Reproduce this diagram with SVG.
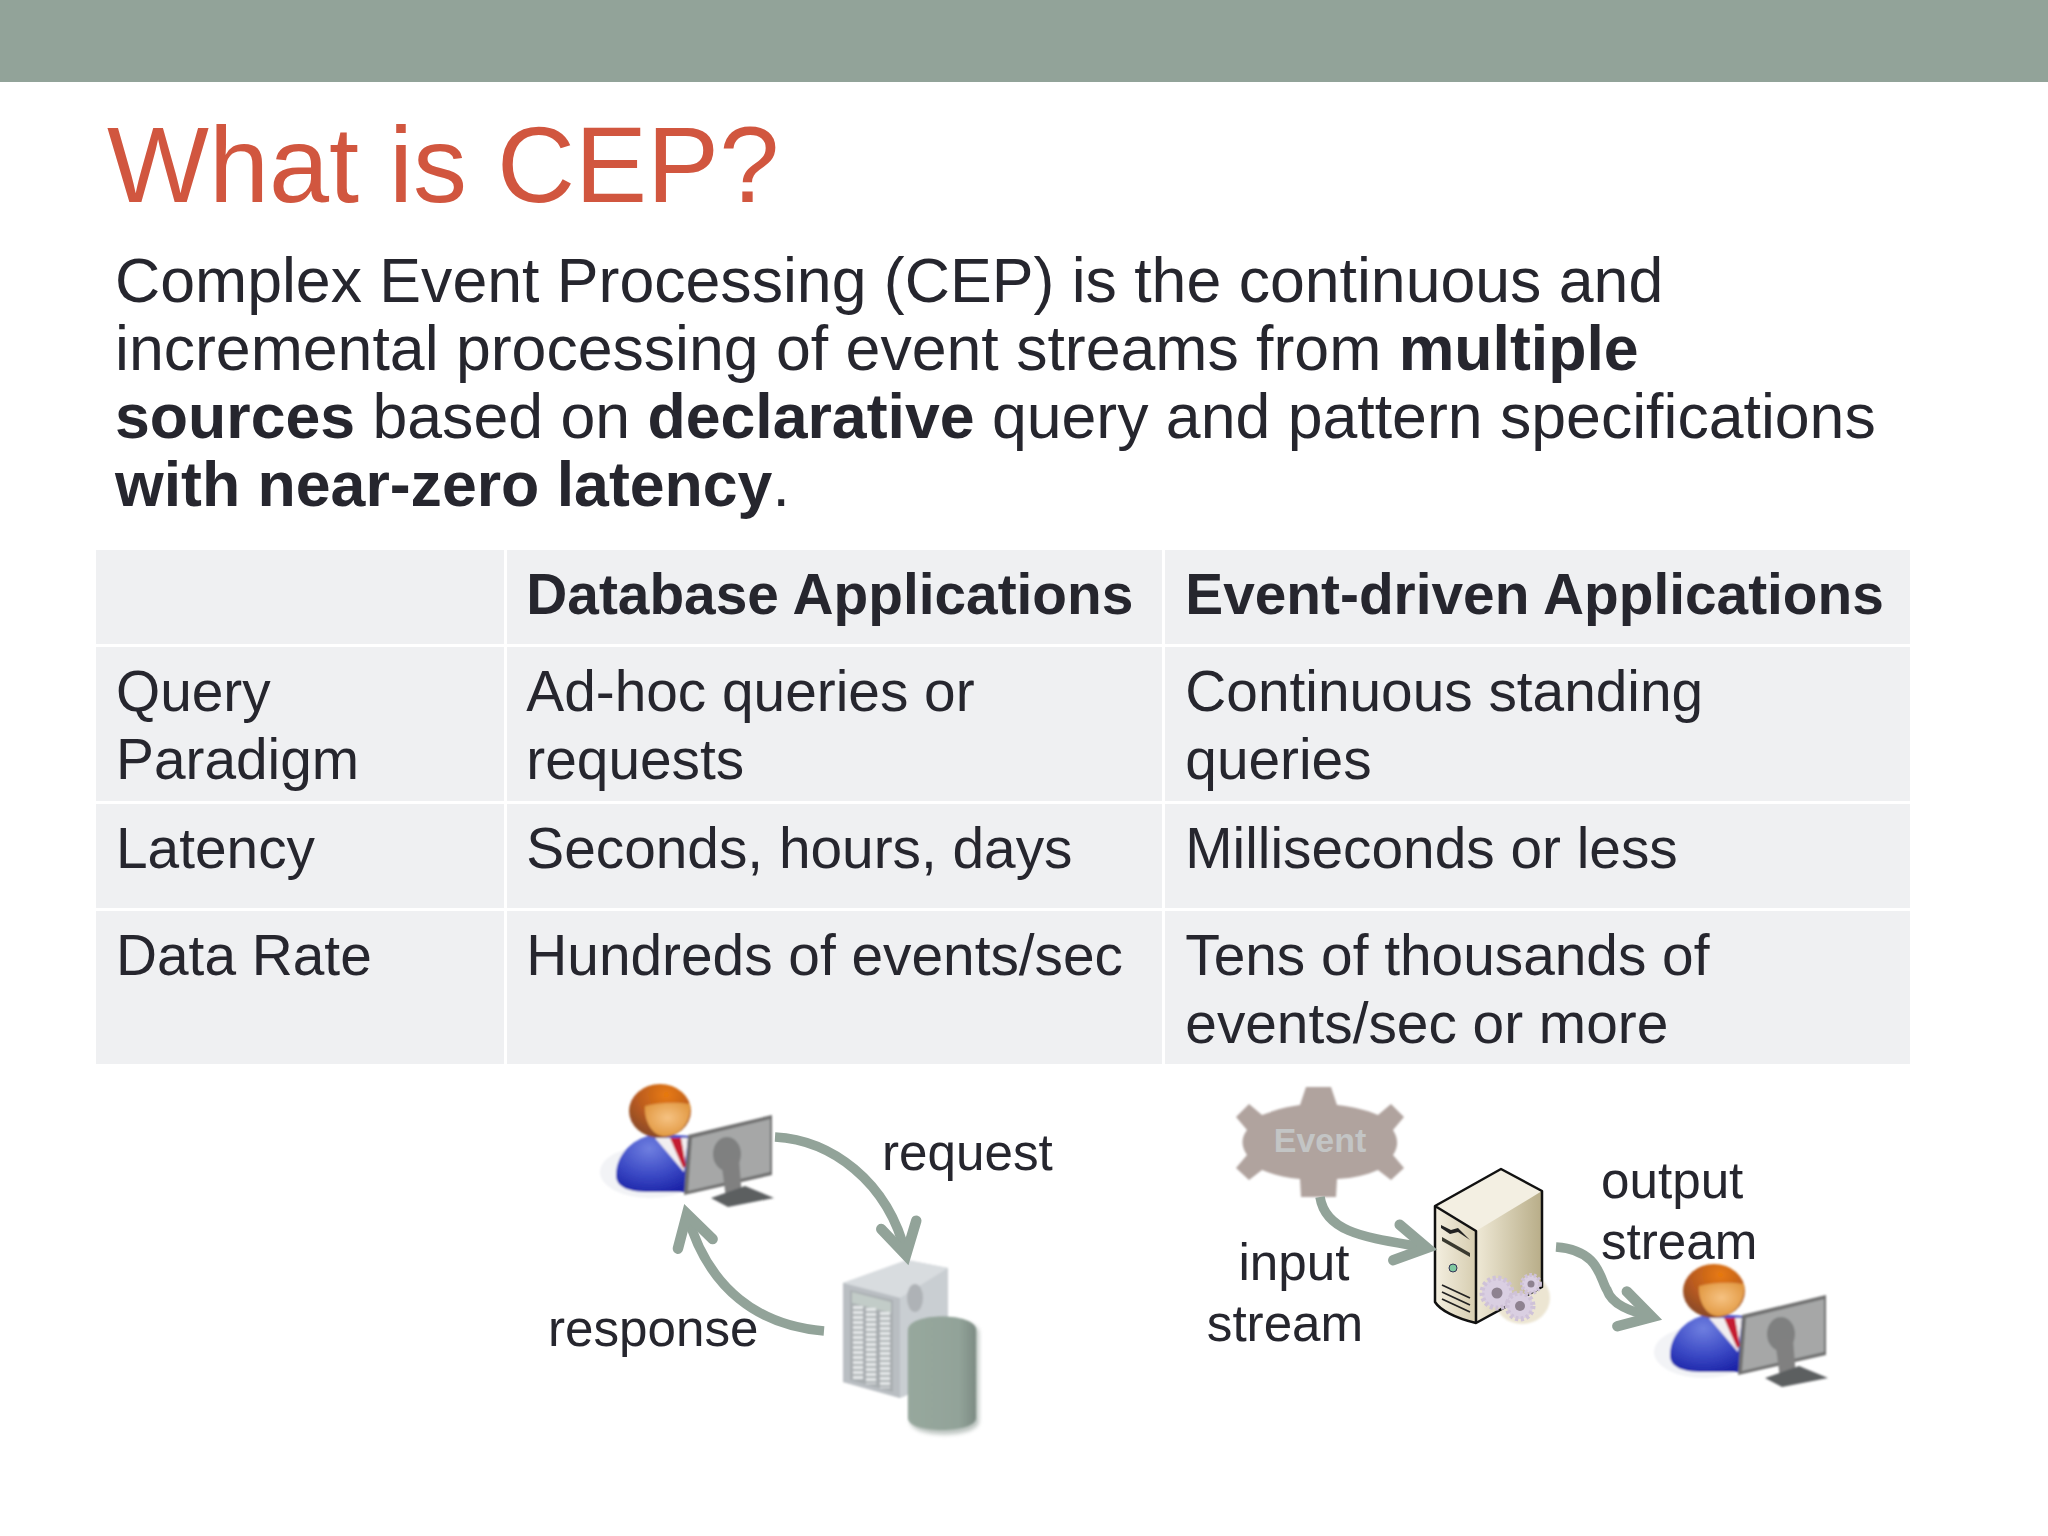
<svg xmlns="http://www.w3.org/2000/svg" width="2048" height="1536" viewBox="0 0 2048 1536">
<style>
text{font-family:"Liberation Sans",Arial,sans-serif;fill:#26262e}
.title{font-size:108px;fill:#d1563f}
.body{font-size:62.6px}
.b{font-weight:700}
.cell{font-size:56.8px}
.lab{font-size:51.2px}
.tc{fill:#eff0f2}
.conn{fill:none;stroke:#92a399;stroke-width:9.5;marker-end:url(#chev)}
</style>
<defs>
<marker id="chev" markerUnits="userSpaceOnUse" markerWidth="60" markerHeight="60" refX="42" refY="30" orient="auto">
<path d="M11 12 L42 30 L11 48" fill="none" stroke="#92a399" stroke-width="10.5" stroke-linecap="round" stroke-linejoin="miter"/>
</marker>
<filter id="soft" x="-10%" y="-10%" width="120%" height="120%"><feGaussianBlur stdDeviation="0.8"/></filter>
<filter id="soft2" x="-20%" y="-20%" width="140%" height="140%"><feGaussianBlur stdDeviation="2"/></filter>
<radialGradient id="hair" cx="0.6" cy="0.2" r="0.8"><stop offset="0" stop-color="#e87a10"/><stop offset="0.6" stop-color="#b85a20"/><stop offset="1" stop-color="#8a4a28"/></radialGradient>
<radialGradient id="face" cx="0.5" cy="0.45" r="0.6"><stop offset="0" stop-color="#f6c282"/><stop offset="1" stop-color="#e0963e"/></radialGradient>
<radialGradient id="suit" cx="0.45" cy="0.25" r="0.8"><stop offset="0" stop-color="#6f7fe0"/><stop offset="0.6" stop-color="#3a48c4"/><stop offset="1" stop-color="#1c24a8"/></radialGradient>
<linearGradient id="srvR" x1="0" y1="0" x2="1" y2="0"><stop offset="0" stop-color="#efe9d6"/><stop offset="1" stop-color="#b8ad88"/></linearGradient>
<linearGradient id="srvF" x1="0" y1="0" x2="1" y2="0"><stop offset="0" stop-color="#f4efe0"/><stop offset="1" stop-color="#d6cdb0"/></linearGradient>
<linearGradient id="cyl" x1="0" y1="0" x2="1" y2="0"><stop offset="0" stop-color="#97a89d"/><stop offset="0.75" stop-color="#92a399"/><stop offset="1" stop-color="#7d8c84"/></linearGradient>
<g id="person" filter="url(#soft)">
<ellipse cx="650" cy="1172" rx="50" ry="26" fill="#f2f3f6"/>
<path d="M616 1175 C616 1150 640 1134 660 1134 L690 1136 L688 1192 L650 1192 C630 1192 616 1188 616 1175Z" fill="url(#suit)"/>
<path d="M655 1138 L688 1138 L684 1172 Z" fill="#f2eef0"/>
<path d="M670 1138 L681 1138 L686 1166 L683 1168 Z" fill="#c41e30"/>
<ellipse cx="660" cy="1111" rx="31" ry="27" fill="url(#hair)"/>
<path d="M645 1106 C660 1102 676 1102 690 1104 C692 1125 676 1138 662 1136 C651 1134 644 1120 645 1106Z" fill="url(#face)"/>
<path d="M688 1135 L772 1115 L772 1175 L684 1195 Z" fill="#6f7070"/>
<path d="M692 1138 L770 1119 L770 1172 L688 1191 Z" fill="#a6a7a7"/>
<ellipse cx="727" cy="1154" rx="14" ry="17" fill="#7f8080"/>
<path d="M721 1160 L739 1158 L742 1198 L726 1198 Z" fill="#808080"/>
<path d="M711 1198 L745 1186 L774 1198 L728 1207 Z" fill="#5c5f61"/>
</g>
</defs>
<rect id="band" x="0" y="0" width="2048" height="82" fill="#92a399"/>
<g id="heading"><text class="title" x="107" y="202">What is CEP?</text></g>
<g id="definition">
<text class="body" x="115" y="302">Complex Event Processing (CEP) is the continuous and</text>
<text class="body" x="115" y="370">incremental processing of event streams from <tspan class="b">multiple</tspan></text>
<text class="body" x="115" y="438"><tspan class="b">sources</tspan> based on <tspan class="b">declarative</tspan> query and pattern specifications</text>
<text class="body" x="115" y="506"><tspan class="b">with near-zero latency</tspan>.</text>
</g>
<g id="table">
<rect class="tc" x="96" y="550" width="408" height="94"/>
<rect class="tc" x="507" y="550" width="655" height="94"/>
<rect class="tc" x="1165" y="550" width="745" height="94"/>
<rect class="tc" x="96" y="647" width="408" height="154"/>
<rect class="tc" x="507" y="647" width="655" height="154"/>
<rect class="tc" x="1165" y="647" width="745" height="154"/>
<rect class="tc" x="96" y="804" width="408" height="104"/>
<rect class="tc" x="507" y="804" width="655" height="104"/>
<rect class="tc" x="1165" y="804" width="745" height="104"/>
<rect class="tc" x="96" y="911" width="408" height="153"/>
<rect class="tc" x="507" y="911" width="655" height="153"/>
<rect class="tc" x="1165" y="911" width="745" height="153"/>
<text class="cell b" x="526.3" y="614">Database Applications</text>
<text class="cell b" x="1185.3" y="614">Event-driven Applications</text>
<text class="cell" x="116" y="711">Query</text>
<text class="cell" x="116" y="779">Paradigm</text>
<text class="cell" x="526.3" y="711">Ad-hoc queries or</text>
<text class="cell" x="526.3" y="779">requests</text>
<text class="cell" x="1185.3" y="711">Continuous standing</text>
<text class="cell" x="1185.3" y="779">queries</text>
<text class="cell" x="116" y="868">Latency</text>
<text class="cell" x="526.3" y="868">Seconds, hours, days</text>
<text class="cell" x="1185.3" y="868">Milliseconds or less</text>
<text class="cell" x="116" y="975">Data Rate</text>
<text class="cell" x="526.3" y="975">Hundreds of events/sec</text>
<text class="cell" x="1185.3" y="975">Tens of thousands of</text>
<text class="cell" x="1185.3" y="1043">events/sec or more</text>
</g>
<g id="client-db"><use href="#person"/></g>
<g id="database-server" filter="url(#soft)">
<path d="M843 1283 L907 1260 L948 1268 L948 1380 L900 1398 L843 1382 Z" fill="#c9ced2"/>
<path d="M843 1283 L907 1260 L948 1268 L900 1298 Z" fill="#d8dcdf"/>
<ellipse cx="915" cy="1298" rx="8" ry="14" fill="#aeb2b6"/>
<path d="M843 1283 L900 1298 L900 1398 L843 1382 Z" fill="#b9bec2"/>
<path d="M850 1290 L893 1300 L893 1392 L850 1380 Z" fill="#a9aeb1"/>
<path d="M852 1292 L891 1302 L891 1313 L852 1303 Z" fill="#c2ccc8"/>
<path d="M858 1306 V1380 M871 1308 V1384 M885 1312 V1388" stroke="#e6e9ea" stroke-width="10" stroke-dasharray="3 2" fill="none"/>
</g>
<g id="database-cylinder">
<path d="M908 1330 C908 1312 977 1312 977 1330 V1418 C977 1436 908 1436 908 1418 Z" fill="#7d8c84" opacity="0.5" filter="url(#soft2)" transform="translate(2 3)"/>
<path d="M908 1330 C908 1312 976 1312 976 1330 V1418 C976 1434 908 1434 908 1418 Z" fill="url(#cyl)" filter="url(#soft)"/>
</g>
<g id="event-gear">
<path d="M1306 1087 H1331 L1337 1105 C1355 1107 1366 1110 1378 1115 L1391 1104 L1404 1117 L1393 1130 C1398 1138 1399 1146 1393 1155 L1404 1168 L1391 1180 L1378 1170 C1366 1175 1355 1178 1337 1179 L1336 1197 H1301 L1300 1179 C1285 1178 1275 1175 1262 1170 L1249 1180 L1236 1168 L1247 1155 C1241 1146 1241 1138 1247 1130 L1236 1117 L1249 1104 L1262 1115 C1275 1110 1285 1107 1300 1105 Z" fill="#b0a39e" filter="url(#soft)"/>
<text x="1320" y="1152" text-anchor="middle" font-size="34" font-weight="700" style="fill:#c3c5c5">Event</text>
</g>
<g id="event-server">
<ellipse cx="1522" cy="1298" rx="28" ry="26" fill="#ece5d2" filter="url(#soft)"/>
<path d="M1501 1169 L1542 1191 V1287 L1476 1323 V1231 Z" fill="url(#srvR)"/>
<path d="M1435 1206 L1501 1169 L1542 1191 L1476 1231 Z" fill="#f3efe2"/>
<path d="M1435 1206 L1476 1231 V1323 C1455 1318 1440 1310 1435 1302 Z" fill="url(#srvF)"/>
<path d="M1435 1206 L1501 1169 L1542 1191 V1287 L1476 1323 C1455 1318 1440 1310 1435 1302 Z M1435 1206 L1476 1231 V1323" fill="none" stroke="#111" stroke-width="2.5" stroke-linejoin="round"/>
<path d="M1441 1225 L1451 1230 L1458 1228 L1470 1240 L1458 1232 L1450 1234 L1441 1228 Z" fill="#222"/>
<path d="M1442 1237 L1470 1253 L1470 1257 L1442 1241 Z" fill="#3a3a30"/>
<circle cx="1453" cy="1268" r="4" fill="#7fc8a0" stroke="#335" stroke-width="1"/>
<path d="M1442 1285 L1470 1298 M1442 1292 L1470 1305 M1442 1299 L1470 1312" stroke="#222" stroke-width="1.8" fill="none"/>
<g fill="#dacfe2" stroke="#cfc2d8">
<circle cx="1497" cy="1293" r="15" stroke-width="5" stroke-dasharray="3 2.5"/>
<circle cx="1520" cy="1306" r="13" stroke-width="5" stroke-dasharray="3 2.5"/>
<circle cx="1531" cy="1284" r="9" stroke-width="4" stroke-dasharray="2.5 2"/>
</g>
<circle cx="1497" cy="1293" r="5.5" fill="#8e8290"/><circle cx="1520" cy="1306" r="5" fill="#8e8290"/><circle cx="1531" cy="1284" r="3.5" fill="#8e8290"/>
</g>
<g id="client-stream"><use href="#person" transform="translate(1054 180)"/></g>
<g id="connectors">
<path class="conn" d="M775 1137 C830 1140 888 1180 906 1255"/>
<path class="conn" d="M824 1331 C760 1326 708 1290 687 1214"/>
<path class="conn" d="M1320 1197 C1326 1235 1372 1238 1427 1248"/>
<path class="conn" d="M1556 1247 C1600 1250 1600 1280 1607 1290 C1612 1305 1630 1311 1652 1317"/>
</g>
<g id="labels">
<text class="lab" x="882" y="1170">request</text>
<text class="lab" x="548" y="1346">response</text>
<text class="lab" x="1294" y="1280" text-anchor="middle">input</text>
<text class="lab" x="1285" y="1341" text-anchor="middle">stream</text>
<text class="lab" x="1601" y="1198">output</text>
<text class="lab" x="1601" y="1259">stream</text>
</g>
</svg>
